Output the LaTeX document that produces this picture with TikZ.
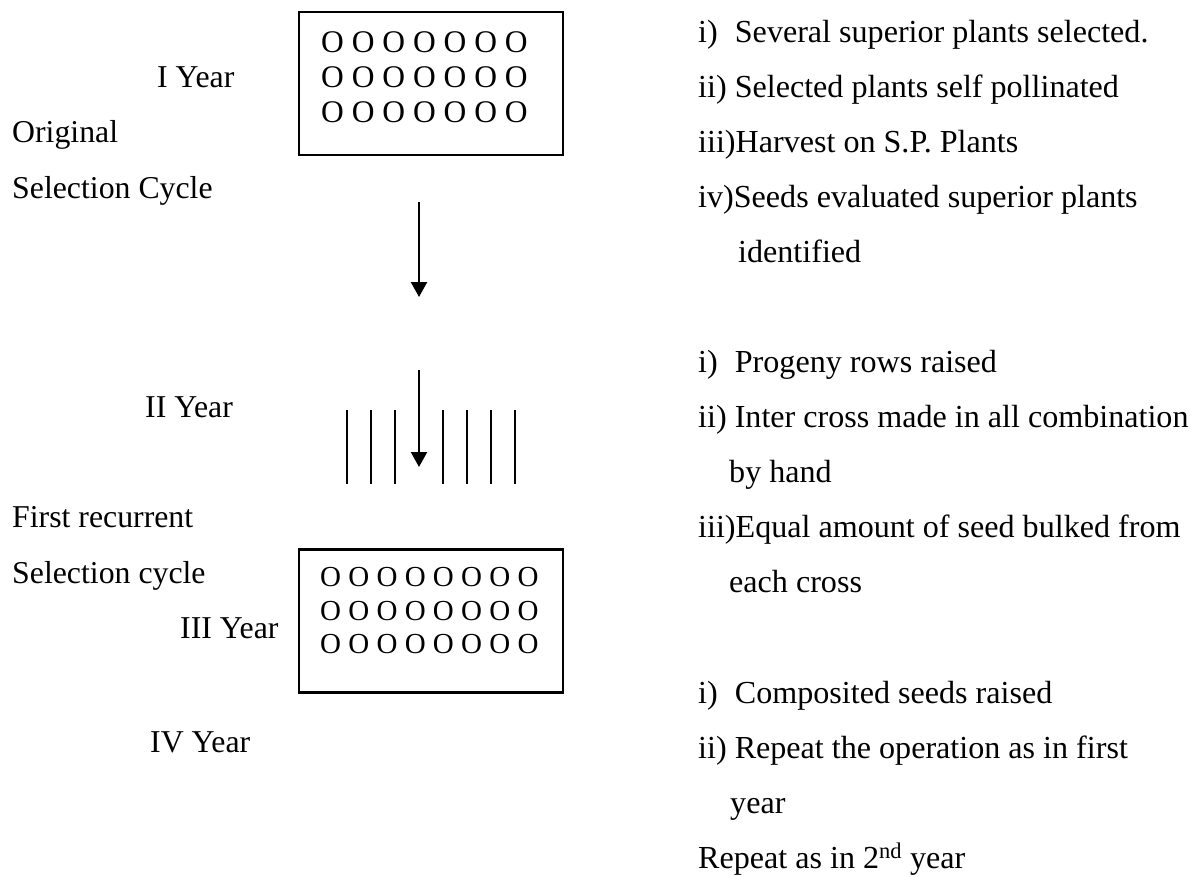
\documentclass[tikz,border=0pt]{standalone}
\usepackage{fontspec}
\setmainfont{Liberation Serif}
\usetikzlibrary{arrows.meta}
\newcommand{\lbl}[1]{\makebox[36.7pt][l]{#1}}
\begin{document}
\begin{tikzpicture}[x=1pt,y=-1pt,
  txt/.style={anchor=base west, inner sep=0pt, font=\fontsize{32.1}{40}\selectfont},
  lft/.style={anchor=base west, inner sep=0pt, font=\fontsize{31.8}{40}\selectfont},
  ooA/.style={anchor=base west, inner sep=0pt, font=\fontsize{31.5}{36}\selectfont},
  ooB/.style={anchor=base west, inner sep=0pt, font=\fontsize{29}{34}\selectfont},
  plot/.style={draw, line width=2.5pt, minimum width=264pt, minimum height=143pt, inner sep=0pt},
  arr/.style={line width=2.2pt, -{Triangle[width=16pt,length=15pt]}},
  row/.style={line width=2.2pt}]
\useasboundingbox (0,0) rectangle (1191,876);

% left labels
\node[lft] (y1) at (157,87) {I Year};
\node[lft] (orig) at (12,142) {Original};
\node[lft] (selc) at (12,198) {Selection Cycle};
\node[lft] (y2) at (145,417) {II Year};
\node[lft] (first) at (12,527) {First recurrent};
\node[lft] (selc2) at (12,583) {Selection cycle};
\node[lft] (y3) at (180,638) {III Year};
\node[lft] (y4) at (150,752) {IV Year};

% boxes
\node[plot] (box1) at (431,83.5) {};
\node[ooA] (b1r1) at (321,52) {O O O O O O O};
\node[ooA] (b1r2) at (321,87) {O O O O O O O};
\node[ooA] (b1r3) at (321,122) {O O O O O O O};

\node[plot] (box2) at (431,621) {};
\node[ooB] (b2r1) at (320,586) {O O O O O O O O};
\node[ooB] (b2r2) at (320,620) {O O O O O O O O};
\node[ooB] (b2r3) at (320,653) {O O O O O O O O};

% arrows
\coordinate (a1s) at (419,202);
\coordinate (a1e) at (419,297);
\coordinate (a2s) at (419,370);
\coordinate (a2e) at (419,467);
\draw[arr] (a1s) -- (a1e);
\draw[arr] (a2s) -- (a2e);

% progeny rows
\foreach \i/\x in {1/347,2/371,3/395,4/443,5/467,6/491,7/515}{
  \coordinate (r\i t) at (\x,410);
  \coordinate (r\i b) at (\x,484);
  \draw[row] (r\i t) -- (r\i b);
}

% right column
\node[txt] (t1) at (698,42) {\lbl{i)}Several superior plants selected.};
\node[txt] (t2) at (698,97) {ii) Selected plants self pollinated};
\node[txt] (t3) at (698,152) {iii)Harvest on S.P. Plants};
\node[txt] (t4) at (698,207) {iv)Seeds evaluated superior plants};
\node[txt] (t5) at (738,262) {identified};

\node[txt] (u1) at (698,372) {\lbl{i)}Progeny rows raised};
\node[txt] (u2) at (698,427) {ii) Inter cross made in all combination};
\node[txt] (u3) at (729,482) {by hand};
\node[txt] (u4) at (698,537) {iii)Equal amount of seed bulked from};
\node[txt] (u5) at (729,592) {each cross};

\node[txt] (v1) at (698,703) {\lbl{i)}Composited seeds raised};
\node[txt] (v2) at (698,758) {ii) Repeat the operation as in first};
\node[txt] (v3) at (730,813) {year};
\node[txt] (v4) at (698,868) {Repeat as in 2\textsuperscript{nd} year};
\end{tikzpicture}
\end{document}
